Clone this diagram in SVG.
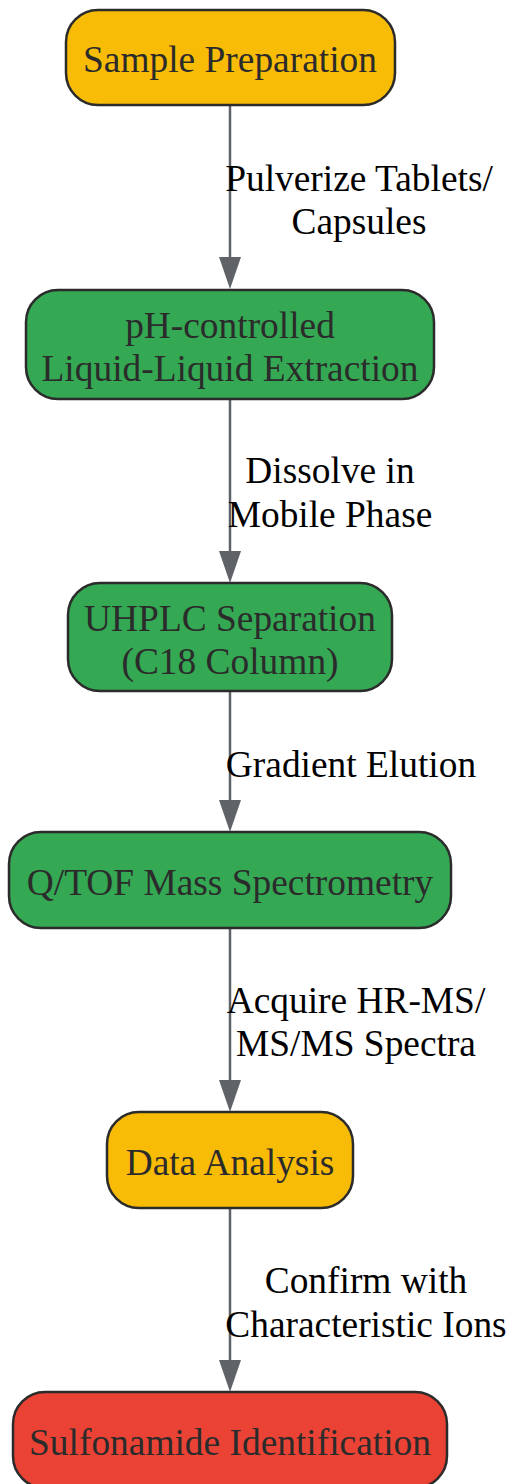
<svg xmlns="http://www.w3.org/2000/svg" width="509" height="1484" viewBox="0 0 509 1484">
<style>
.n{stroke:#2b2b2b;stroke-width:2.5}
.y{fill:#F9BC06}
.g{fill:#34A853}
.r{fill:#EA4335}
.nt{font-family:"Liberation Serif",serif;font-size:37.4px;fill:#2b2b2b;text-anchor:middle}
.e{stroke:#5f6368;stroke-width:2.5;fill:none}
.ah{fill:#5f6368}
.et{font-family:"Liberation Serif",serif;font-size:37.4px;fill:#000;text-anchor:middle}
</style>
<g id="connectors">
<line class="e" x1="230" y1="105" x2="230" y2="258"/>
<path class="ah" d="M219,257 L241,257 L230,289 Z"/>
<line class="e" x1="230" y1="399" x2="230" y2="552"/>
<path class="ah" d="M219,551 L241,551 L230,583 Z"/>
<line class="e" x1="230" y1="691" x2="230" y2="801"/>
<path class="ah" d="M219,800 L241,800 L230,832 Z"/>
<line class="e" x1="230" y1="928" x2="230" y2="1081"/>
<path class="ah" d="M219,1080 L241,1080 L230,1112 Z"/>
<line class="e" x1="230" y1="1208" x2="230" y2="1361"/>
<path class="ah" d="M219,1360 L241,1360 L230,1392 Z"/>
<text class="et" x="359" y="191">Pulverize Tablets/</text>
<text class="et" x="359" y="234">Capsules</text>
<text class="et" x="330" y="483">Dissolve in</text>
<text class="et" x="330" y="527">Mobile Phase</text>
<text class="et" x="351" y="777">Gradient Elution</text>
<text class="et" x="356" y="1013">Acquire HR-MS/</text>
<text class="et" x="356" y="1056">MS/MS Spectra</text>
<text class="et" x="366" y="1293">Confirm with</text>
<text class="et" x="366" y="1337">Characteristic Ions</text>
</g>
<g id="node1">
<rect class="n y" x="66" y="10" width="329" height="95" rx="32"/>
<text class="nt" x="230" y="72">Sample Preparation</text>
</g>
<g id="node2">
<rect class="n g" x="26" y="290" width="408" height="109" rx="32"/>
<text class="nt" x="230" y="338">pH-controlled</text>
<text class="nt" x="230" y="381">Liquid-Liquid Extraction</text>
</g>
<g id="node3">
<rect class="n g" x="68" y="583" width="324" height="108" rx="32"/>
<text class="nt" x="230" y="631">UHPLC Separation</text>
<text class="nt" x="230" y="674">(C18 Column)</text>
</g>
<g id="node4">
<rect class="n g" x="9" y="832" width="442" height="96" rx="32"/>
<text class="nt" x="230" y="895">Q/TOF Mass Spectrometry</text>
</g>
<g id="node5">
<rect class="n y" x="107" y="1112" width="246" height="96" rx="32"/>
<text class="nt" x="230" y="1175">Data Analysis</text>
</g>
<g id="node6">
<rect class="n r" x="13" y="1392" width="434" height="96" rx="32"/>
<text class="nt" x="230" y="1455">Sulfonamide Identification</text>
</g>
</svg>
